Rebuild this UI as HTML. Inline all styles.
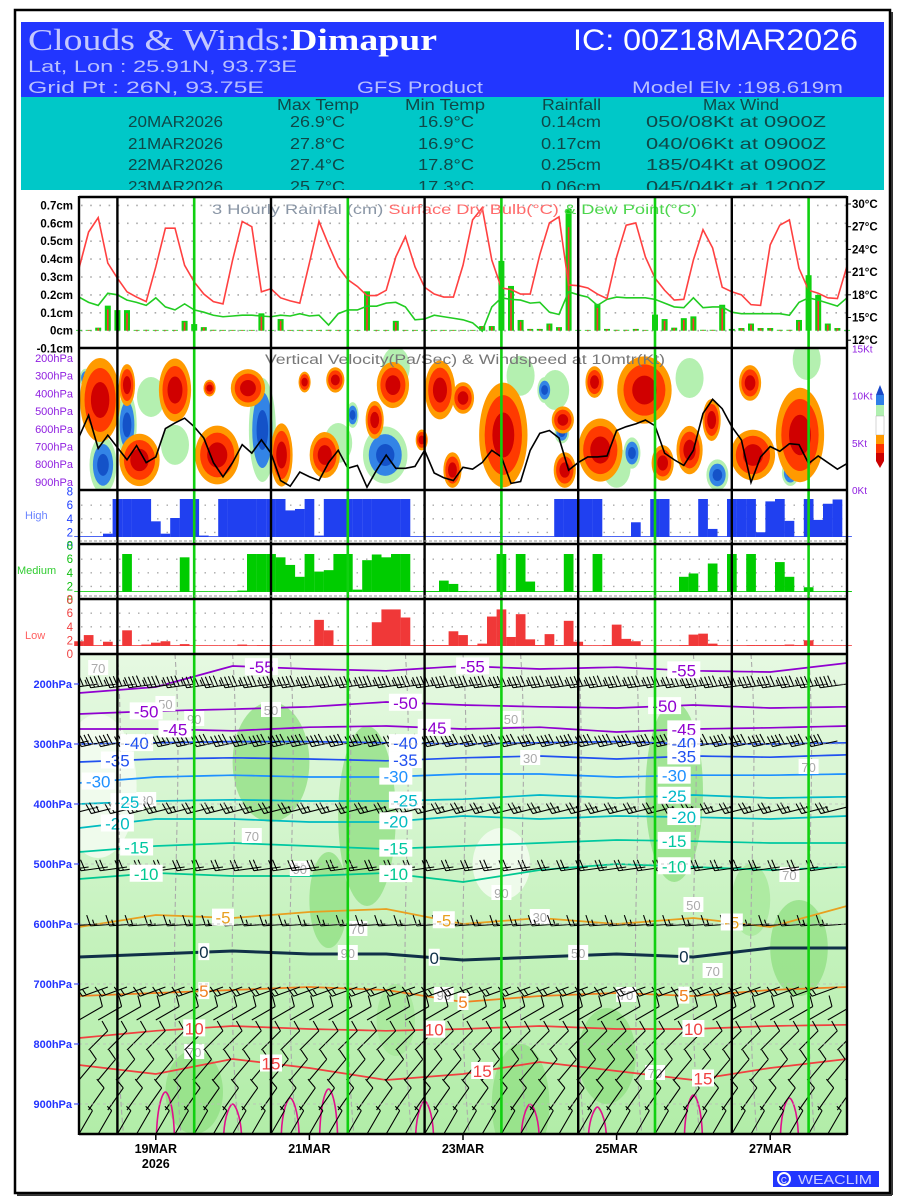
<!DOCTYPE html>
<html><head><meta charset="utf-8">
<style>
body{margin:0;background:#fff}
svg{display:block}
text{font-family:"Liberation Sans",sans-serif}
</style></head>
<body>
<svg id="chart" width="900" height="1200" viewBox="0 0 900 1200" xmlns="http://www.w3.org/2000/svg">
<defs>
 <clipPath id="clipVV"><rect x="79" y="348" width="768" height="142"/></clipPath>
 <clipPath id="clipBot"><rect x="79" y="654" width="768" height="480"/></clipPath>
 <clipPath id="clipCyan"><rect x="21" y="97" width="863" height="93"/></clipPath>
 <linearGradient id="rhGrad" x1="0" y1="0" x2="0" y2="1">
  <stop offset="0" stop-color="#e6f9e2"/><stop offset="0.35" stop-color="#d4f5ce"/><stop offset="0.6" stop-color="#c4f2bc"/><stop offset="1" stop-color="#b2eda8"/>
 </linearGradient>
</defs>
<rect x="0" y="0" width="900" height="1200" fill="#fff"/>
<rect x="15" y="10" width="875" height="1183" fill="none" stroke="#000" stroke-width="2.5"/>
<line x1="892" y1="12" x2="892" y2="1195" stroke="#333" stroke-width="2"/>
<line x1="17" y1="1195" x2="892" y2="1195" stroke="#333" stroke-width="2"/>

<g>
 <rect x="21" y="22" width="863" height="75" fill="#2236ff"/>
 <rect x="21" y="97" width="863" height="93" fill="#00c8c8"/>
 <text x="28" y="50" style="font-family:'Liberation Serif',serif" font-size="31" textLength="409" lengthAdjust="spacingAndGlyphs" fill="#c4c8ff">Clouds &amp; Winds:<tspan fill="#fff" font-weight="bold">Dimapur</tspan></text>
 <text x="573" y="50" font-size="30" fill="#fff" textLength="285" lengthAdjust="spacingAndGlyphs">IC: 00Z18MAR2026</text>
 <text x="28" y="72" font-size="17" fill="#b8c0ff" textLength="269" lengthAdjust="spacingAndGlyphs">Lat, Lon : 25.91N, 93.73E</text>
 <text x="28" y="93" font-size="17" fill="#b8c0ff" textLength="236" lengthAdjust="spacingAndGlyphs">Grid Pt  : 26N, 93.75E</text>
 <text x="357" y="93" font-size="17" fill="#b8c0ff" textLength="126" lengthAdjust="spacingAndGlyphs">GFS Product</text>
 <text x="632" y="93" font-size="17" fill="#b8c0ff" textLength="211" lengthAdjust="spacingAndGlyphs">Model Elv :198.619m</text>
 <g clip-path="url(#clipCyan)" fill="#0f4848" font-size="16">
  <text x="277" y="110" textLength="82" lengthAdjust="spacingAndGlyphs">Max Temp</text>
  <text x="405" y="110" textLength="80" lengthAdjust="spacingAndGlyphs">Min Temp</text>
  <text x="542" y="110" textLength="59" lengthAdjust="spacingAndGlyphs">Rainfall</text>
  <text x="703" y="110" textLength="76" lengthAdjust="spacingAndGlyphs">Max Wind</text>
  <g><text x="128" y="127" textLength="95" lengthAdjust="spacingAndGlyphs">20MAR2026</text><text x="290" y="127" textLength="55" lengthAdjust="spacingAndGlyphs">26.9°C</text><text x="418" y="127" textLength="56" lengthAdjust="spacingAndGlyphs">16.9°C</text><text x="541" y="127" textLength="60" lengthAdjust="spacingAndGlyphs">0.14cm</text><text x="646" y="127" textLength="180" lengthAdjust="spacingAndGlyphs">050/08Kt at 0900Z</text></g>
  <g><text x="128" y="149" textLength="95" lengthAdjust="spacingAndGlyphs">21MAR2026</text><text x="290" y="149" textLength="55" lengthAdjust="spacingAndGlyphs">27.8°C</text><text x="418" y="149" textLength="56" lengthAdjust="spacingAndGlyphs">16.9°C</text><text x="541" y="149" textLength="60" lengthAdjust="spacingAndGlyphs">0.17cm</text><text x="646" y="149" textLength="180" lengthAdjust="spacingAndGlyphs">040/06Kt at 0900Z</text></g>
  <g><text x="128" y="170" textLength="95" lengthAdjust="spacingAndGlyphs">22MAR2026</text><text x="290" y="170" textLength="55" lengthAdjust="spacingAndGlyphs">27.4°C</text><text x="418" y="170" textLength="56" lengthAdjust="spacingAndGlyphs">17.8°C</text><text x="541" y="170" textLength="60" lengthAdjust="spacingAndGlyphs">0.25cm</text><text x="646" y="170" textLength="180" lengthAdjust="spacingAndGlyphs">185/04Kt at 0900Z</text></g>
  <g><text x="128" y="192" textLength="95" lengthAdjust="spacingAndGlyphs">23MAR2026</text><text x="290" y="192" textLength="55" lengthAdjust="spacingAndGlyphs">25.7°C</text><text x="418" y="192" textLength="56" lengthAdjust="spacingAndGlyphs">17.3°C</text><text x="541" y="192" textLength="60" lengthAdjust="spacingAndGlyphs">0.06cm</text><text x="646" y="192" textLength="180" lengthAdjust="spacingAndGlyphs">045/04Kt at 1200Z</text></g>
 </g>
</g>

<g id="gBot"></g>
<g id="gVV"></g>
<g id="gRain"></g>
<g id="gCloud"></g>
<g id="gFrame"></g>
<g id="gAxes"></g>

<g>
 <polygon points="880,385 876,395 884,395" fill="#1848c8"/>
 <rect x="876" y="395" width="8" height="10" fill="#2f7fe8"/>
 <rect x="876" y="405" width="8" height="11" fill="#b0f0b0"/>
 <rect x="876" y="416" width="8" height="19" fill="#fff" stroke="#999" stroke-width="0.4"/>
 <rect x="876" y="435" width="8" height="9" fill="#ff9900"/>
 <rect x="876" y="444" width="8" height="9" fill="#ff3300"/>
 <rect x="876" y="453" width="8" height="8" fill="#cc0000"/>
 <polygon points="876,461 884,461 880,468" fill="#cc0000"/>
</g>
<g>
 <rect x="773" y="1171" width="106" height="16" fill="#2236ff"/>
 <circle cx="784" cy="1179" r="6" fill="none" stroke="#fff" stroke-width="2"/>
 <text x="781" y="1183" font-size="8" fill="#fff">C</text>
 <text x="798" y="1184" font-size="13" fill="#c8ccff" textLength="74" lengthAdjust="spacingAndGlyphs">WEACLIM</text>
</g>
</svg>
<script>
// ---------- DATA ----------
const temp = [21.5,26.3,28.2,22.2,20.2,18.4,17.7,17.1, 21.7,26.8,26.8,21.9,19.7,18.1,17.1,16.8,
 22.6,27.7,27.0,18.4,18.8,17.6,17.2,16.9, 22.2,27.7,24.6,21.7,20.0,19.1,17.9,17.9,
 18.6,23.0,25.7,21.7,19.0,18.1,17.7,17.7, 21.9,27.9,29.5,22.6,18.9,18.7,18.1,18.1,
 23.3,27.5,28.3,19.3,19.2,18.9,18.1,17.5, 23.0,27.2,27.5,23.0,20.2,18.6,17.3,17.4,
 22.6,26.6,24.2,19.0,18.4,18.0,16.7,16.6, 24.6,27.2,27.9,21.5,18.6,18.2,17.6,17.5, 21.8];
const dewp = [17.7,17.0,16.6,18.2,18.0,17.3,17.0,16.6, 17.6,16.4,16.0,16.8,16.0,15.7,15.3,15.1,
 15.2,15.3,15.3,15.2,15.1,15.3,15.2,15.5, 15.2,15.3,14.0,15.5,16.0,16.0,16.5,16.5,
 16.9,17.0,16.4,14.7,14.8,15.3,15.1,14.9, 14.7,14.3,13.2,16.4,17.6,17.4,17.3,16.9,
 17.0,15.7,15.4,18.4,18.0,17.7,16.6,17.4, 17.7,17.6,17.6,17.6,17.4,16.9,16.4,16.3,
 17.6,16.3,16.4,16.4,15.7,15.5,15.5,15.5, 15.5,15.5,15.3,17.0,17.6,17.3,16.9,16.5, 17.6];
const rain = [0,0,0.017,0.14,0.115,0.115,0,0.005, 0,0,0,0.055,0.037,0.02,0.005,0,
 0,0,0,0.097,0,0.065,0,0, 0,0,0.005,0,0,0,0.22,0,
 0,0.055,0,0,0,0,0,0, 0,0,0.026,0.026,0.39,0.25,0.06,0.01,
 0.01,0.04,0.02,0.68,0,0,0.15,0.01, 0.005,0.005,0.01,0,0.09,0.065,0.017,0.07,
 0.08,0.005,0.005,0.145,0.01,0.015,0.04,0.015, 0.015,0.005,0.005,0.06,0.31,0.2,0.04,0.015, 0];
const wind10 = [5.6,7.9,4.4,5.8,4.5,3.2,4.7,2.9,3.5,6.5,7.1,7.6,6.7,5.5,2.9,1.4,2.9,4.8,3.9,5.3,
 3.9,1.0,0.4,1.9,1.4,1.0,2.9,4.2,2.3,2.6,0.3,2.1,3.7,2.3,2.3,2.5,4.2,1.8,1.3,1.0,
 2.4,2.2,2.9,4.2,3.5,0.7,0.9,4.2,6.0,6.3,5.5,2.1,2.9,3.5,3.5,3.6,6.3,6.7,7.0,7.4,
 6.8,3.9,3.2,2.6,4.2,8.1,9.6,8.6,6.7,5.3,0.8,3.5,4.6,4.1,4.9,4.8,2.8,3.6,2.9,2.2,2.8];
const highCloud = [0.1,0.1,0.1,0.7,8,8,8,8, 3.3,0.7,4,8,8,0.3,0,8, 8,8,8,8,8,8,5.6,5.9,
 8,0.3,8,8,8,8,8,8, 8,8,8,0.1,0.1,0.1,0.1,0.1, 0,0.1,0.1,0.1,0.1,0.1,0.1,0.1,
 0.1,0.1,8,8,8,8,8,0.1, 0.1,0.1,3.1,0,8,8,0.1,0.1, 0.1,8,1.7,0.1,8,8,8,1.0, 7.5,8,3.4,0.1,8,3.6,7,7.9, 0.1];
const midCloud = [0.1,0.1,0.1,0.1,0.1,8,0.1,0.1, 0.1,0.1,0.1,7.3,0.1,0.1,0.1,0, 0,0.3,8,8,8,7.3,5.7,3.2,
 8,4.3,4.6,8,8,0.5,6.7,7.9, 7.3,8,8,0.2,0.2,0.2,2.4,1.7, 0.2,0,0,0,8,0.2,8,2.2,
 0.1,0.1,0.1,8,0.1,0.1,8,0, 0,0,0.2,0.2,0,0,0,3.2, 3.9,0.2,6.0,0.1,8,0.1,8,0.1, 0.1,6.3,3.2,0.1,1.0,0.1,0.1,0.2, 0.2];
const lowCloud = [1.0,2.3,0.05,0.9,0,3.3,0.1,0.3, 0.7,1.0,0.1,0.4,0,0,0,0, 0,0.3,0,0.2,0.2,0,0,0,
 0.1,5.5,3.3,0.2,0.1,0.1,0,5.0, 7.7,7.7,6.0,0.1,0.2,0.2,0.2,3.1, 2.3,0,0.5,6.2,7.7,1.9,6.7,1.4,
 0.2,2.5,0.2,5.3,0.9,0.1,0,0.2, 4.5,1.5,1.0,0.1,0.1,0.1,0.1,0.2, 2.4,2.6,0.5,0.1,0.1,0,0.2,0.2, 0.2,0.2,0.3,0.2,1.2,0.1,0.1,0.1, 0.1];
const vvUpI  = [2.2,5,6.3,10,14.4,17.6,13.6,21.1,23.5,25.6,26.7,30.8,32.7,35.7,37.6,38.9,40,44.2,50.4,50.6,54.3,53.7,58.9,60.8,63.6,65.9,70.2,69.9,75.1];
const vvUpP  = [437,353,776,381,748,370,370,748,336,748,324,550,353,663,381,833,426,635,550,833,720,336,381,793,720,550,748,341,635];
const vvUpRI = [1.9,0.7,1.9,1.5,2.1,1.6,0.5,1.0,0.5,1.4,0.8,0.8,1.5,0.5,1.4,0.8,1.0,2.3,1.0,1.0,2.1,0.8,2.6,1.0,1.2,0.8,2.1,1.0,2.3];
const vvUpRP = [226,113,141,170,158,102,45,170,56,124,68,102,124,56,158,96,85,282,73,96,170,85,181,96,130,113,136,96,254];
const vvDnI  = [0.7,5,2.5,19.1,31.9,28.5,50.3,48.5,57.6,66.5,74.1];
const vvDnP  = [313,578,804,607,748,522,624,381,737,861,850];
const vvDnRI = [0.4,0.7,1.0,1.0,1.7,0.4,0.5,0.5,0.6,0.8,0.6];
const vvDnRP = [40,141,124,226,124,56,45,56,68,68,56];
const vvWeakI = [10,49.6,63.6,75.8,7.5,27,46,33,56];
const vvWeakP = [691,381,313,211,420,680,300,250,820];
const isoTemps = [-55,-50,-45,-40,-35,-30,-25,-20,-15,-10,-5,0,5,10,15];
const isoP = [
 [215,205,170,175,178,170,175,172,178,180,165],
 [250,245,242,238,230,235,238,240,235,240,238],
 [275,275,278,272,270,275,272,280,275,273,270],
 [300,298,296,296,298,300,298,296,300,300,298],
 [330,325,323,325,328,323,320,325,320,322,318],
 [365,355,352,355,355,350,350,355,352,352,350],
 [400,395,393,395,395,392,385,390,385,390,388],
 [440,425,425,430,430,420,425,420,422,425,420],
 [480,470,465,470,475,470,465,460,462,465,465],
 [525,515,520,520,515,530,510,500,505,510,505],
 [605,585,590,580,575,600,590,600,590,605,570],
 [655,650,645,650,650,660,655,650,655,640,640],
 [720,715,710,705,710,730,720,715,720,710,705],
 [790,778,770,775,778,775,770,775,775,770,768],
 [835,850,825,840,860,850,830,845,860,840,825]];
const isoColors = ['#9000d0','#9000d0','#9000d0','#2050f0','#2050f0','#1e90ff','#00b8c8','#00bcc0','#00c8a0','#00c890','#e8a020','#103048','#f08020','#f04040','#f04040'];
const isoLabelI = [[19,41,63],[7,34,61],[10,37,63],[6,34,63],[4,34,63],[2,33,62],[5,34,62],[4,33,63],[6,33,62],[7,33,62],[15,38,68],[13,37,63],[13,40,63],[12,37,64],[20,42,65]];
const warmI = [9,16,22,26,36,47,54,64,74];
const warmP = [880,900,890,875,895,900,905,885,890];
const rhI = [2,20,30,46,62,75,44,33,12,55,70,26];
const rhP = [370,330,420,900,380,640,500,760,880,820,560,560];
const rhRI = [4,4,3,3,3,3,3,2,3,3,2,2];
const rhRP = [120,100,150,100,150,80,60,60,70,80,60,80];
const rhLev = [0,2,2,2,2,2,0,1,2,2,1,2];
const barbLevels = [200,295,405,505,600,705,760,810,860,910,950];
const barbSpeed  = [45,40,25,20,15,15,10,10,10,10,5];
const barbDir    = [262,258,256,262,266,250,60,45,40,35,30];
const rhLabI = [2,9,7,12,20,18,23,29,47,44,48,52,57,64,66,74,76,60,38,45,12,28];
const rhLabP = [175,235,395,260,245,455,510,610,325,550,590,650,720,570,680,520,340,850,720,260,815,650];
const rhLabV = ['70','50','30','90','50','70','90','70','30','90','30','50','70','50','70','70','70','70','90','50','70','90'];

// ---------- SCALES ----------
const NS='http://www.w3.org/2000/svg';
const X = i => 79 + i*9.6;
const yRain = v => 330.7 - v*179;
const yTemp = t => 204 + (30-t)*7.567;
const yKt = k => 490 - k*9.45;
const yVV = p => 358 + (p-200)*0.177;
const yBot = p => 684 + (p-200)*0.6;
function mk(parent, tag, attrs){const e=document.createElementNS(NS,tag);for(const k in attrs)e.setAttribute(k,attrs[k]);parent.appendChild(e);return e;}
function txt(parent, x, y, s, attrs){const e=mk(parent,'text',Object.assign({x:x,y:y},attrs||{}));e.textContent=s;return e;}
function tsp(parent, s, fill){const e=mk(parent,'tspan',{fill:fill});e.textContent=s;return e;}

const gRain=document.getElementById('gRain'), gVV=document.getElementById('gVV'), gCloud=document.getElementById('gCloud'), gBot=document.getElementById('gBot'), gFrame=document.getElementById('gFrame'), gAxes=document.getElementById('gAxes');

// ---------- RAIN / TEMP PANEL ----------
const rainTicks=[0.7,0.6,0.5,0.4,0.3,0.2,0.1,0,-0.1];
const rainTickLabels=['0.7cm','0.6cm','0.5cm','0.4cm','0.3cm','0.2cm','0.1cm','0cm','-0.1cm'];
rainTicks.forEach((v,k)=>{
  if(k<rainTicks.length-1){const g=mk(gRain,'line',{x1:81,x2:846,y1:yRain(v),y2:yRain(v),stroke:'#aaa','stroke-width':1.6,'stroke-dasharray':'1.6 7.6'});
  
  }
  const t=txt(gAxes,73,yRain(v)+4,rainTickLabels[k],{'text-anchor':'end','font-size':11.5,'font-weight':'bold',fill:'#000'});
  
  
});
const tempTicks=[30,27,24,21,18,15,12];
const tempTickLabels=['30°C','27°C','24°C','21°C','18°C','15°C','12°C'];
tempTicks.forEach((v,k)=>{
  const t=txt(gAxes,852,yTemp(v)+4,tempTickLabels[k],{'font-size':11.5,'font-weight':'bold',fill:'#000'});
  
  
  const m=mk(gAxes,'line',{x1:847,x2:851,y1:yTemp(v),y2:yTemp(v),stroke:'#000'});
  
  
});
rain.forEach((v,i)=>{
  const h=Math.max(v*179,0.8);
  const b=mk(gRain,'rect',{x:X(i)-3,y:yRain(0)-h,width:6,height:h,fill:'#10d010'});
  
  
  const r=mk(gRain,'rect',{x:X(i)-0.8,y:yRain(0)-h*0.85,width:1.6,height:h*0.85,fill:'#ff3030'});
  
  
});
const dpPath=mk(gRain,'polyline',{points:dewp.map((v,i)=>X(i)+','+yTemp(v)).join(' '),fill:'none',stroke:'#22cc22','stroke-width':1.6});


const tPath=mk(gRain,'polyline',{points:temp.map((v,i)=>X(i)+','+yTemp(v)).join(' '),fill:'none',stroke:'#ff4040','stroke-width':1.6});


const lg=mk(gRain,'text',{x:212,y:214,'font-size':13.5,textLength:485,lengthAdjust:'spacingAndGlyphs'});


tsp(lg,'3 Hourly Rainfal (cm) ','#8a96a6');
tsp(lg,'Surface Dry Bulb(°C) ','#ff6b6b');
tsp(lg,' & Dew Point(°C)','#4cd64c');

// ---------- VERTICAL VELOCITY PANEL ----------
const vvClip=mk(gVV,'g',{'clip-path':'url(#clipVV)'});


vvWeakI.forEach((v,k)=>{
  const e=mk(vvClip,'ellipse',{cx:X(v),cy:yVV(vvWeakP[k]),rx:14,ry:20,fill:'#b4f0b0'});
  
  
});
vvDnI.forEach((v,k)=>{
  [[1.3,'#b4f0b0'],[0.95,'#3384e6'],[0.5,'#1452c8']].forEach(([s,c])=>{
    const e=mk(vvClip,'ellipse',{cx:X(v),cy:yVV(vvDnP[k]),rx:vvDnRI[k]*9.6*s+1,ry:vvDnRP[k]*0.177*s,fill:c});
    
    
  });
});
vvUpI.forEach((v,k)=>{
  [[1.05,'#ff9a00'],[0.8,'#ff3a00'],[0.45,'#d00000']].forEach(([s,c])=>{
    const e=mk(vvClip,'ellipse',{cx:X(v),cy:yVV(vvUpP[k]),rx:vvUpRI[k]*9.6*s+1,ry:vvUpRP[k]*0.177*s,fill:c});
    
    
  });
});
const wl=mk(gVV,'polyline',{points:wind10.map((v,i)=>X(i)+','+yKt(v)).join(' '),fill:'none',stroke:'#000','stroke-width':1.6});


const vvt=txt(gVV,265,364,'Vertical Velocity(Pa/Sec) & Windspeed at 10mtr(Kt)',{'font-size':13.5,fill:'#777',textLength:400,lengthAdjust:'spacingAndGlyphs'});


const vvLevels=[200,300,400,500,600,700,800,900];
const vvLevelLabels=['200hPa','300hPa','400hPa','500hPa','600hPa','700hPa','800hPa','900hPa'];
vvLevels.forEach((p,k)=>{
  const t=txt(gAxes,73,yVV(p)+4,vvLevelLabels[k],{'text-anchor':'end','font-size':11,fill:'#9020e0'});
  
  
});
const ktTicks=[15,10,5,0];
const ktLabels=['15Kt','10Kt','5Kt','0Kt'];
ktTicks.forEach((k,j)=>{
  const t=txt(gAxes,852,yKt(k)+4,ktLabels[j],{'font-size':10,fill:'#9020e0'});
  
  
});

// ---------- CLOUD PANELS ----------
const cloudPanels=[
 {data:highCloud,base:537,zero:546,color:'#2040f0',lab:'#2040ff',name:'High',nc:'#6a84ff',ny:519,nx:25},
 {data:midCloud,base:592,zero:600,color:'#00cc00',lab:'#10c010',name:'Medium',nc:'#30cc30',ny:574,nx:17},
 {data:lowCloud,base:646,zero:654,color:'#f03838',lab:'#f04040',name:'Low',nc:'#ff6060',ny:639,nx:25}];
const oktaTicks=[8,6,4,2,0];
cloudPanels.forEach(cp=>{
  oktaTicks.forEach(o=>{
    const y=cp.zero-o*6.8;
    if(o>0 && o<8){const g=mk(gCloud,'line',{x1:81,x2:846,y1:y,y2:y,stroke:'#aaa','stroke-width':1.4,'stroke-dasharray':'1.5 8'});
    
    }
    const t=txt(gAxes,73,y+4,String(o),{'text-anchor':'end','font-size':11.5,fill:cp.lab});
    
    
  });
  const n=txt(gAxes,cp.nx,cp.ny,cp.name,{'font-size':11,fill:cp.nc});
  
  
  cp.data.forEach((v,i)=>{
    const h=Math.max(v*4.75,0.8);
    const b=mk(gCloud,'rect',{x:X(i)-4.8,y:cp.base-h,width:9.7,height:h,fill:cp.color});
    
    
  });
});

// ---------- BOTTOM PANEL ----------
const bc=mk(gBot,'g',{'clip-path':'url(#clipBot)'});


const bg=mk(bc,'rect',{x:79,y:654,width:768,height:480,fill:'url(#rhGrad)'});


const rhFill=['#f6fdf4','#a6e89a','#92e084'];
rhI.forEach((v,k)=>{
  const e=mk(bc,'ellipse',{cx:X(v),cy:yBot(rhP[k]),rx:rhRI[k]*9.6,ry:rhRP[k]*0.6,fill:rhFill[rhLev[k]],opacity:0.8});
  
  
});
for(let i=4;i<81;i+=6){
  const d=mk(bc,'path',{d:'M'+X(i)+',654 C'+(X(i)+10)+',800 '+(X(i)-10)+',950 '+(X(i)+6)+',1134',fill:'none',stroke:'#aaa','stroke-width':1.1,'stroke-dasharray':'5 3'});
  
  
}
warmI.forEach((v,k)=>{
  const x=X(v),yt=yBot(warmP[k]);
  const p=mk(bc,'path',{d:'M'+(x-9)+',1136 C'+(x-8)+','+(yt+10)+' '+(x-2)+','+yt+' '+x+','+yt+' C'+(x+2)+','+yt+' '+(x+8)+','+(yt+10)+' '+(x+9)+',1136',fill:'none',stroke:'#e0108c','stroke-width':1.6});
  
  
});
function isoAt(arr,i){const s=i/8,k=Math.min(Math.floor(s),9),f=s-k;return arr[k]*(1-f)+arr[k+1]*f;}
isoTemps.forEach((t,k)=>{
  let pts=[];
  for(let i=0;i<=80;i++)pts.push(X(i)+','+yBot(isoAt(isoP[k],i)));
  const l=mk(bc,'polyline',{points:pts.join(' '),fill:'none',stroke:isoColors[k],'stroke-width':t===0?3:1.7});
  
  
});
rhLabI.forEach((v,k)=>{
  const x=X(v),y=yBot(rhLabP[k]);
  const r=mk(bc,'rect',{x:x-10,y:y-9,width:20,height:15,fill:'#fff'});
  
  
  const t=txt(bc,x,y+4,rhLabV[k],{'text-anchor':'middle','font-size':13,fill:'#aaa'});
  
  
});
function barbPath(x,y,spd,dir){
  const a=dir*Math.PI/180, ux=Math.sin(a), uy=-Math.cos(a);
  const L=27, ex=x+ux*L, ey=y+uy*L;
  let px=uy, py=-ux; if(py>0){px=-px;py=-py;}
  let d='M'+x+','+y+'L'+ex+','+ey;
  let r=spd, pos=0;
  while(r>=50){const sx=ex-ux*pos,sy=ey-uy*pos;d+='M'+sx+','+sy+'L'+(sx+px*10)+','+(sy+py*10)+'L'+(sx-ux*4)+','+(sy-uy*4)+'Z';pos+=5;r-=50;}
  while(r>=10){const sx=ex-ux*pos,sy=ey-uy*pos;d+='M'+sx+','+sy+'L'+(sx+px*11+ux*3)+','+(sy+py*11+uy*3);pos+=4;r-=10;}
  if(r>=5){const sx=ex-ux*pos,sy=ey-uy*pos;d+='M'+sx+','+sy+'L'+(sx+px*6+ux*1.5)+','+(sy+py*6+uy*1.5);}
  return d;
}
barbLevels.forEach((p,k)=>{
  let d='';
  for(let i=(k%2);i<=80;i+=2){d+=barbPath(X(i),yBot(p),barbSpeed[k],barbDir[k]);}
  const b=mk(bc,'path',{d:d,fill:'none',stroke:'#000','stroke-width':1.1});
  
  
});
isoTemps.forEach((t,k)=>{
  isoLabelI[k].forEach(i=>{
    const x=X(i),y=yBot(isoAt(isoP[k],i));
    const s=String(t);
    const r=mk(bc,'rect',{x:x-s.length*5.5,y:y-9,width:s.length*11,height:17,fill:'#fff'});
    
    
    const tt=txt(bc,x,y+6,s,{'text-anchor':'middle','font-size':17,fill:isoColors[k]});
    
    
  });
});
const botLevels=[200,300,400,500,600,700,800,900];
const botLevelLabels=['200hPa','300hPa','400hPa','500hPa','600hPa','700hPa','800hPa','900hPa'];
botLevels.forEach((p,k)=>{
  const t=txt(gAxes,72,yBot(p)+4,botLevelLabels[k],{'text-anchor':'end','font-size':11,'font-weight':'bold',fill:'#2233ff'});
  
  
  const m=mk(gAxes,'line',{x1:74,x2:79,y1:yBot(p),y2:yBot(p),stroke:'#2233ff'});
  
  
  const g=mk(bc,'line',{x1:79,x2:847,y1:yBot(p),y2:yBot(p),stroke:'#bbb','stroke-dasharray':'3 3','stroke-width':0.8});
  
  
});

// ---------- FRAMES ----------
const dayLineI=[4,20,36,52,68];
const noonLineI=[12,28,44,60,76];
noonLineI.forEach(i=>{
  const l=mk(gFrame,'line',{x1:X(i),x2:X(i),y1:197,y2:1134,stroke:'#10d010','stroke-width':2.6});
  
  
});
dayLineI.forEach(i=>{
  const l=mk(gFrame,'line',{x1:X(i),x2:X(i),y1:197,y2:1134,stroke:'#000','stroke-width':2.4});
  
  
});
[197,348,490,544,599,654,1134].forEach(y=>{
  const l=mk(gFrame,'line',{x1:79,x2:847,y1:y,y2:y,stroke:'#000','stroke-width':2.4});
  
  
});
[541,596].forEach(y=>{
  const l=mk(gFrame,'line',{x1:79,x2:847,y1:y,y2:y,stroke:'#999','stroke-width':1,'stroke-dasharray':'3 2'});
  
  
});
[79,847].forEach(x=>{
  const l=mk(gFrame,'line',{x1:x,x2:x,y1:196,y2:1135,stroke:'#000','stroke-width':2.4});
  
  
});
const dateI=[8,24,40,56,72];
const dateLabels=['19MAR','21MAR','23MAR','25MAR','27MAR'];
dateI.forEach((i,k)=>{
  const m=mk(gAxes,'line',{x1:X(i),x2:X(i),y1:1134,y2:1140,stroke:'#000','stroke-width':1.5});
  
  
  const t=txt(gAxes,X(i),1153,dateLabels[k],{'text-anchor':'middle','font-size':12.5,'font-weight':'bold',fill:'#000'});
  
  
});
const yr=txt(gAxes,X(8),1168,'2026',{'text-anchor':'middle','font-size':12.5,'font-weight':'bold',fill:'#000'});


</script>
</body></html>
